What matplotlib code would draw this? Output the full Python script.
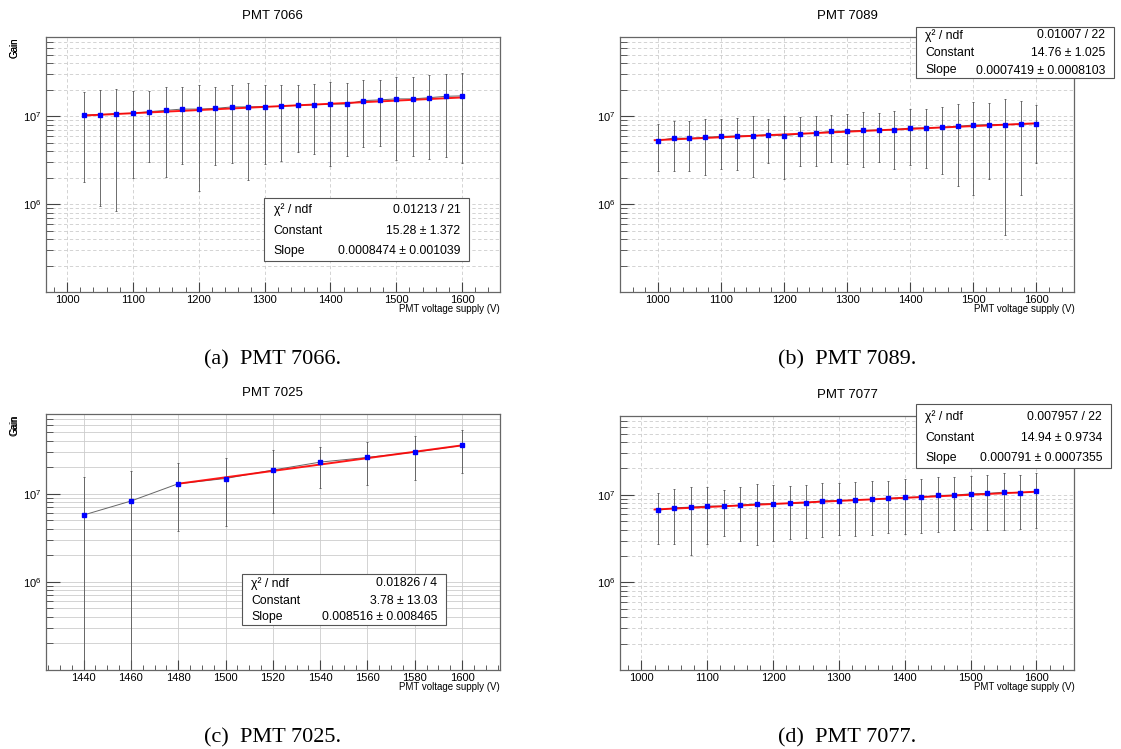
import matplotlib
matplotlib.use("Agg")
import matplotlib.pyplot as plt
from matplotlib.patches import Rectangle
from matplotlib.ticker import FixedLocator, MultipleLocator, LogFormatterSciNotation, NullFormatter

plt.rcParams['font.family'] = ['Liberation Sans', 'DejaVu Sans']
plt.rcParams['mathtext.fontset'] = 'custom'
plt.rcParams['mathtext.rm'] = 'Liberation Sans'
plt.rcParams['mathtext.it'] = 'Liberation Sans:italic'

W, H = 1121, 749

# ---- PMT 7066 ----
volt_7066 = [1025, 1050, 1075, 1100, 1125, 1150, 1175, 1200, 1225, 1250, 1275, 1300,
             1325, 1350, 1375, 1400, 1425, 1450, 1475, 1500, 1525, 1550, 1575, 1600]
gain_7066 = [1.036e7, 1.045e7, 1.073e7, 1.082e7, 1.13e7, 1.17e7, 1.21e7, 1.21e7, 1.23e7, 1.28e7, 1.28e7, 1.29e7,
             1.30e7, 1.34e7, 1.35e7, 1.38e7, 1.38e7, 1.51e7, 1.54e7, 1.58e7, 1.58e7, 1.63e7, 1.69e7, 1.71e7]
err_7066 = [0.855e7, 0.95e7, 0.99e7, 0.885e7, 0.83e7, 0.965e7, 0.92e7, 1.07e7, 0.95e7, 0.985e7, 1.09e7, 1.0e7,
            0.99e7, 0.95e7, 0.98e7, 1.105e7, 1.03e7, 1.06e7, 1.085e7, 1.26e7, 1.23e7, 1.30e7, 1.345e7, 1.415e7]
fit_x_7066 = [1025, 1600]
fit_y_7066 = [1.02e7, 1.64e7]
stats_7066 = [("\u03c7\u00b2 / ndf", "0.01213 / 21"),
              ("Constant", "15.28 \u00b1 1.372"),
              ("Slope", "0.0008474 \u00b1 0.001039")]

# ---- PMT 7089 ----
volt_7089 = [1000, 1025, 1050, 1075, 1100, 1125, 1150, 1175, 1200, 1225, 1250, 1275, 1300,
             1325, 1350, 1375, 1400, 1425, 1450, 1475, 1500, 1525, 1550, 1575, 1600]
gain_7089 = [5.28e6, 5.66e6, 5.61e6, 5.76e6, 5.91e6, 5.97e6, 6.02e6, 6.18e6, 6.02e6, 6.29e6, 6.45e6, 6.75e6, 6.81e6,
             6.92e6, 6.98e6, 7.05e6, 7.36e6, 7.36e6, 7.50e6, 7.69e6, 7.96e6, 8.04e6, 8.04e6, 8.18e6, 8.25e6]
err_7089 = [2.9e6, 3.3e6, 3.25e6, 3.64e6, 3.37e6, 3.49e6, 4.0e6, 3.24e6, 4.1e6, 3.6e6, 3.7e6, 3.7e6, 3.94e6,
            4.25e6, 3.98e6, 4.52e6, 4.6e6, 4.75e6, 5.3e6, 6.1e6, 6.7e6, 6.1e6, 7.6e6, 6.9e6, 5.3e6]
fit_x_7089 = [995, 1595]
fit_y_7089 = [5.35e6, 8.3e6]
stats_7089 = [("\u03c7\u00b2 / ndf", "0.01007 / 22"),
              ("Constant", "14.76 \u00b1 1.025"),
              ("Slope", "0.0007419 \u00b1 0.0008103")]

# ---- PMT 7025 ----
volt_7025 = [1440, 1460, 1480, 1500, 1520, 1540, 1560, 1580, 1600]
gain_7025 = [5.73e6, 8.26e6, 1.30e7, 1.49e7, 1.86e7, 2.29e7, 2.59e7, 2.97e7, 3.54e7]
err_7025 = [0.98e7, 1.0e7, 0.925e7, 1.06e7, 1.26e7, 1.135e7, 1.32e7, 1.55e7, 1.83e7]
fit_x_7025 = [1480, 1600]
fit_y_7025 = [1.30e7, 3.55e7]
stats_7025 = [("\u03c7\u00b2 / ndf", "0.01826 / 4"),
              ("Constant", "3.78 \u00b1 13.03"),
              ("Slope", "0.008516 \u00b1 0.008465")]

# ---- PMT 7077 ----
volt_7077 = [1025, 1050, 1075, 1100, 1125, 1150, 1175, 1200, 1225, 1250, 1275, 1300,
             1325, 1350, 1375, 1400, 1425, 1450, 1475, 1500, 1525, 1550, 1575, 1600]
gain_7077 = [6.63e6, 7.11e6, 7.23e6, 7.43e6, 7.43e6, 7.63e6, 7.89e6, 7.89e6, 7.96e6, 8.11e6, 8.55e6, 8.55e6,
             8.77e6, 8.85e6, 9.08e6, 9.33e6, 9.41e6, 9.83e6, 9.91e6, 1.026e7, 1.035e7, 1.072e7, 1.054e7, 1.091e7]
err_7077 = [3.85e6, 4.4e6, 5.2e6, 4.7e6, 4.05e6, 4.65e6, 5.25e6, 4.9e6, 4.8e6, 4.9e6, 5.25e6, 5.1e6,
            5.4e6, 5.4e6, 5.45e6, 5.73e6, 5.7e6, 6.04e6, 5.95e6, 6.17e6, 6.35e6, 6.8e6, 6.47e6, 6.7e6]
fit_x_7077 = [1020, 1600]
fit_y_7077 = [6.8e6, 1.085e7]
stats_7077 = [("\u03c7\u00b2 / ndf", "0.007957 / 22"),
              ("Constant", "14.94 \u00b1 0.9734"),
              ("Slope", "0.000791 \u00b1 0.0007355")]


def fx(x):
    return x / W


def fy(y):
    return 1 - y / H


# pixel layout: frame (left, top, right, bottom), x range, tick steps, stats box, caption
panels = [
    dict(title="PMT 7066", x=volt_7066, y=gain_7066, e=err_7066, fx=fit_x_7066, fy=fit_y_7066,
         stats=stats_7066, frame=(45.7, 37, 500, 292), xlim=(967.5, 1657.5), major=100, minor=20,
         box=(264.3, 198.3, 469.3, 261), rows=(209, 230, 250), caption="(a)  PMT 7066.", dashed=True),
    dict(title="PMT 7089", x=volt_7089, y=gain_7089, e=err_7089, fx=fit_x_7089, fy=fit_y_7089,
         stats=stats_7089, frame=(620, 37, 1074.3, 292), xlim=(940, 1660), major=100, minor=20,
         box=(915.7, 26.7, 1114.3, 77.7), rows=(34.5, 52.3, 69.5), caption="(b)  PMT 7089.", dashed=True),
    dict(title="PMT 7025", x=volt_7025, y=gain_7025, e=err_7025, fx=fit_x_7025, fy=fit_y_7025,
         stats=stats_7025, frame=(45.7, 414.3, 500, 669.7), xlim=(1424, 1616), major=20, minor=5,
         box=(241.7, 574, 446, 625), rows=(582.5, 600, 616), caption="(c)  PMT 7025.", dashed=False),
    dict(title="PMT 7077", x=volt_7077, y=gain_7077, e=err_7077, fx=fit_x_7077, fy=fit_y_7077,
         stats=stats_7077, frame=(620, 415.7, 1074.3, 670), xlim=(967.5, 1657.5), major=100, minor=20,
         box=(915.7, 404.3, 1111, 467.7), rows=(415.5, 437, 457), caption="(d)  PMT 7077.", dashed=True),
]

fig = plt.figure(figsize=(W / 100, H / 100), dpi=100)

minor_y = [k * 10.0 ** d for d in (5, 6, 7) for k in range(2, 10) if k * 10.0 ** d <= 8e7]

for p in panels:
    l, t, r, b = p["frame"]
    ax = fig.add_axes([fx(l), fy(b), (r - l) / W, (b - t) / H])
    ax.set_yscale("log")
    ax.set_xlim(*p["xlim"])
    ax.set_ylim(1e5, 8e7)

    ax.plot(p["x"], p["y"], color="#666666", lw=0.7, zorder=2)
    ax.errorbar(p["x"], p["y"], yerr=p["e"], fmt="none", ecolor="#555555", elinewidth=0.6,
                capsize=1.0, capthick=0.6, zorder=2)
    ax.plot(p["fx"], p["fy"], color="#ff0000", lw=1.4, alpha=0.9, zorder=3)
    ax.plot(p["x"], p["y"], ls="none", marker="s", ms=2.7, mfc="#0000ff", mec="#0000ff", zorder=4)

    ax.xaxis.set_major_locator(MultipleLocator(p["major"]))
    ax.xaxis.set_minor_locator(MultipleLocator(p["minor"]))
    ax.yaxis.set_major_locator(FixedLocator([1e6, 1e7]))
    ax.yaxis.set_major_formatter(LogFormatterSciNotation())
    ax.yaxis.set_minor_locator(FixedLocator(minor_y))
    ax.yaxis.set_minor_formatter(NullFormatter())
    ax.tick_params(which="both", direction="in", labelsize=8, color="#444444")
    ax.tick_params(axis="x", which="major", length=7, pad=2.5)
    ax.tick_params(axis="x", which="minor", length=3.5)
    ax.tick_params(axis="y", which="major", length=10, pad=3)
    ax.tick_params(axis="y", which="minor", length=5)

    ls = (0, (4, 3)) if p["dashed"] else "-"
    ax.grid(which="major", axis="x", ls=ls, color="#cccccc", lw=0.6)
    ax.grid(which="both", axis="y", ls=ls, color="#cccccc", lw=0.6)
    ax.set_axisbelow(True)
    for s in ax.spines.values():
        s.set_color("#666666")
        s.set_linewidth(0.9)

    cx = (l + r) / 2
    fig.text(fx(cx), fy(t - 21), p["title"], ha="center", va="center", fontsize=9.5)
    fig.text(fx(14), fy(t), "Gain", rotation=90, ha="center", va="top", fontsize=7)
    fig.text(fx(r), fy(b + 17), "PMT voltage supply (V)", ha="right", va="center", fontsize=7)

    bl, bt, br, bb = p["box"]
    fig.patches.append(Rectangle((fx(bl), fy(bb)), (br - bl) / W, (bb - bt) / H,
                                 transform=fig.transFigure, facecolor="white",
                                 edgecolor="#555555", lw=0.8, zorder=5))
    for (lab, val), ry in zip(p["stats"], p["rows"]):
        fig.text(fx(bl + 9.5), fy(ry + 4), lab, ha="left", va="baseline", fontsize=8.8, zorder=6)
        fig.text(fx(br - 9), fy(ry + 4), val, ha="right", va="baseline", fontsize=8.8, zorder=6)

    fig.text(fx(cx), fy(b + 72.5), p["caption"], ha="center", va="baseline",
             fontsize=16, family=["Liberation Serif", "DejaVu Serif"])

fig.savefig("out.png", dpi=100)
